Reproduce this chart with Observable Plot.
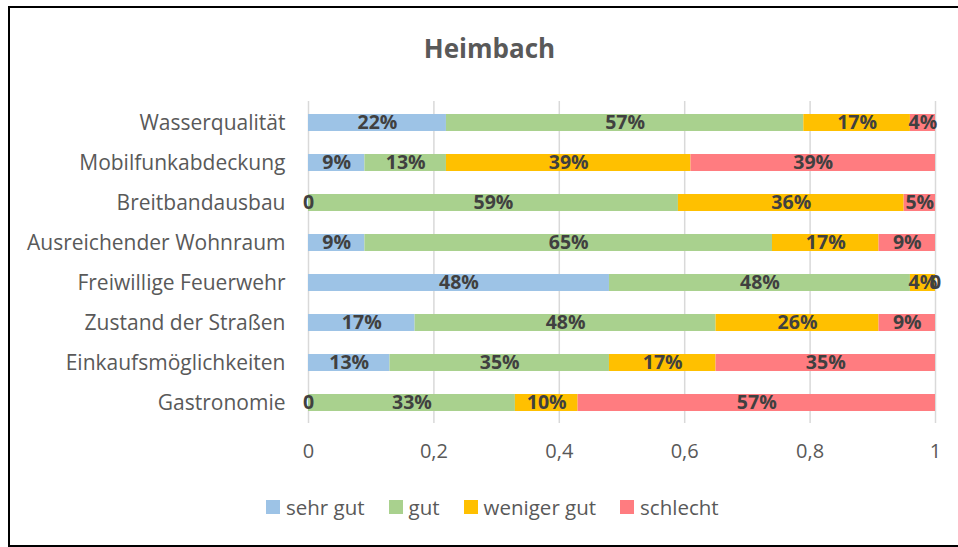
<!DOCTYPE html>
<html>
<head>
<meta charset="utf-8">
<script src="https://cdn.jsdelivr.net/npm/d3@7"></script>
<script src="https://cdn.jsdelivr.net/npm/@observablehq/plot@0.6"></script>
<style>
  html, body { margin: 0; padding: 0; background: #fff; }
  #wrap { position: relative; width: 958px; height: 547px; overflow: hidden; font-family: "Open Sans", sans-serif; }
  #frame { position: absolute; left: 8px; top: 6px; width: 960px; height: 537px; border-top: 2px solid #000; border-left: 2px solid #000; border-bottom: 2px solid #000; box-sizing: content-box; }
  #title { position: absolute; left: 0; width: 979px; top: 30px; text-align: center; font-size: 26px; font-weight: 700; color: #595959; }
  #chart { position: absolute; left: 0; top: 0; }
  #legend { position: absolute; left: 266px; top: 493px; display: flex; align-items: center; font-size: 20.5px; color: #595959; white-space: nowrap; }
  .item { display: flex; align-items: center; margin-right: 24px; }
  .sw { width: 14px; height: 14px; margin-right: 6px; }
</style>
</head>
<body>
<div id="wrap">
  <div id="frame"></div>
  <div id="title">Heimbach</div>
  <div id="chart"></div>
  <div id="legend"></div>
</div>
<script>
const categories = ["Wasserqualität", "Mobilfunkabdeckung", "Breitbandausbau", "Ausreichender Wohnraum", "Freiwillige Feuerwehr", "Zustand der Straßen", "Einkaufsmöglichkeiten", "Gastronomie"];
const seriesNames = ["sehr gut", "gut", "weniger gut", "schlecht"];
const seriesColors = ["#9DC3E6", "#A9D18E", "#FFC000", "#FF7C80"];
const sehrGut    = [0.22, 0.09, 0.00, 0.09, 0.48, 0.17, 0.13, 0.00];
const gut        = [0.57, 0.13, 0.59, 0.65, 0.48, 0.48, 0.35, 0.33];
const wenigerGut = [0.17, 0.39, 0.36, 0.17, 0.04, 0.26, 0.17, 0.10];
const schlecht   = [0.04, 0.39, 0.05, 0.09, 0.00, 0.09, 0.35, 0.57];
const xTicks = [0, 0.2, 0.4, 0.6, 0.8, 1];
const xTickLabels = ["0", "0,2", "0,4", "0,6", "0,8", "1"];

const seriesValues = [sehrGut, gut, wenigerGut, schlecht];
const data = [];
seriesNames.forEach((s, si) => {
  categories.forEach((c, ci) => data.push({cat: c, series: s, value: seriesValues[si][ci]}));
});

const fmt = v => v === 0 ? "0" : Math.round(v * 100) + "%";

const plot = Plot.plot({
  width: 958,
  height: 470,
  marginLeft: 308,
  marginRight: 23,
  marginTop: 101,
  marginBottom: 47,
  style: {fontFamily: "'Open Sans', sans-serif", background: "transparent", overflow: "visible"},
  x: {domain: [0, 1], ticks: xTicks, label: null, tickSize: 0, tickPadding: 20, grid: false},
  y: {domain: categories, label: null, paddingInner: 0.58, paddingOuter: 0.29, tickSize: 0, tickPadding: 23},
  color: {domain: seriesNames, range: seriesColors},
  marks: [
    Plot.ruleX(xTicks, {stroke: "#d9d9d9", strokeWidth: 1.5}),
    Plot.barX(data, Plot.stackX({x: "value", y: "cat", fill: "series", order: null})),
    Plot.text(data, Plot.stackX({x: "value", y: "cat", z: "series", order: null, text: d => fmt(d.value), fill: "#404040", fontWeight: 700, fontSize: 19.5})),
    Plot.axisX({ticks: xTicks, tickFormat: d => xTickLabels[xTicks.indexOf(d)], tickSize: 0, tickPadding: 20, fontSize: 20, label: null}),
    Plot.axisY({tickSize: 0, tickPadding: 23, fontSize: 21, label: null})
  ]
});
plot.querySelectorAll('[aria-label="x-axis tick label"], [aria-label="y-axis tick label"]').forEach(g => g.setAttribute("fill", "#595959"));
document.getElementById("chart").appendChild(plot);

const legend = document.getElementById("legend");
seriesNames.forEach((s, i) => {
  const it = document.createElement("div");
  it.className = "item";
  const sw = document.createElement("div");
  sw.className = "sw";
  sw.style.background = seriesColors[i];
  const tx = document.createElement("span");
  tx.textContent = s;
  it.appendChild(sw); it.appendChild(tx);
  legend.appendChild(it);
});
</script>
</body>
</html>
